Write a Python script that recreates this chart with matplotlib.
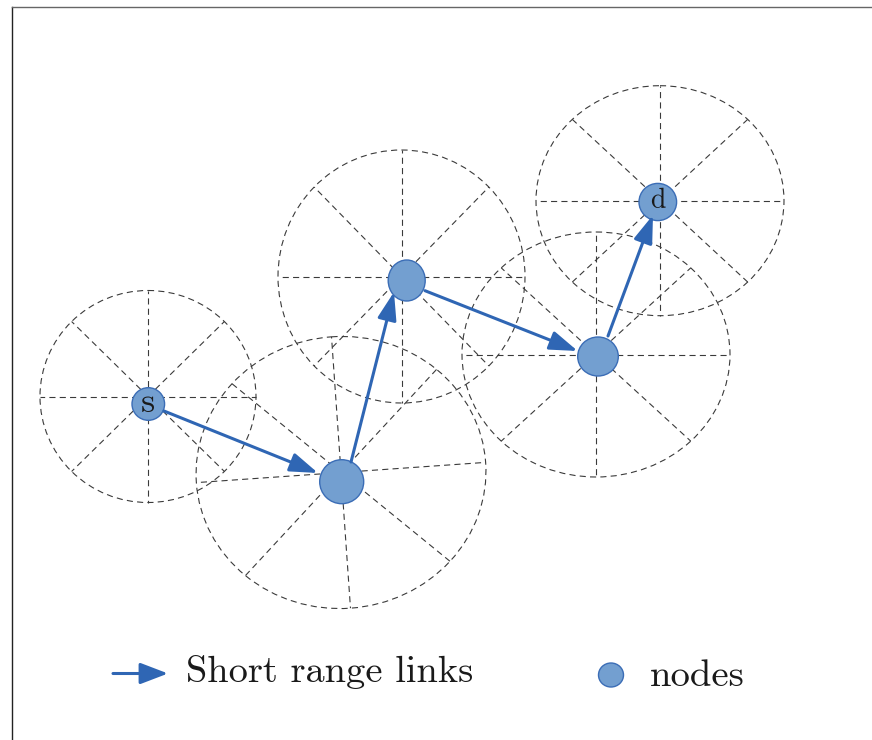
import numpy as np
import matplotlib

matplotlib.use("Agg")
import matplotlib.pyplot as plt
from matplotlib.patches import Ellipse, FancyArrowPatch, ArrowStyle
from matplotlib.lines import Line2D

# transmission ranges (pixel space, y grows downward)
range_x = [148, 341, 401.5, 596, 660]
range_y = [396.5, 472.5, 276.5, 354.5, 200.7]
range_w = [216, 290, 247, 268, 248]
range_h = [212, 272, 253, 245, 230]
range_rot = [0, -4, 0, 0, 0]

# nodes
node_x = [148.3, 341.7, 406.7, 598.0, 657.8]
node_y = [404.0, 481.7, 280.5, 356.5, 202.0]
node_w = [32.6, 44.0, 37.0, 40.6, 37.6]
node_h = [32.6, 44.0, 41.0, 39.0, 37.2]
node_labels = ["s", "", "", "", "d"]

# short range links: start and tip
link_x0 = [164, 351, 425, 608]
link_y0 = [411, 462, 290.7, 336]
link_x1 = [318, 394, 577.7, 653]
link_y1 = [473, 292, 351, 215]

legend_labels = ["Short range links", "nodes"]

NODE_FILL = "#739fd0"
NODE_EDGE = "#3b6db6"
LINK = "#2f66b4"
DASH = "#3a3a3a"
W, H = 872, 740

fig = plt.figure(figsize=(W / 100, H / 100), dpi=100)
ax = fig.add_axes([0, 0, 1, 1])
ax.set_xlim(0, W)
ax.set_ylim(H, 0)
ax.axis("off")

dash = (0, (5.5, 3.8))
for cx, cy, w, h, rot in zip(range_x, range_y, range_w, range_h, range_rot):
    ax.add_patch(Ellipse((cx, cy), w, h, angle=rot, fill=False,
                         ec=DASH, lw=0.8, ls=dash, zorder=1))
    a = np.deg2rad(rot)
    for k in range(8):
        t = np.deg2rad(45 * k)
        px, py = w / 2 * np.cos(t), h / 2 * np.sin(t)
        ex = cx + px * np.cos(a) - py * np.sin(a)
        ey = cy + px * np.sin(a) + py * np.cos(a)
        ax.add_line(Line2D([cx, ex], [cy, ey], color=DASH, lw=0.8,
                           ls=dash, zorder=1))

head = ArrowStyle("-|>", head_length=17, head_width=5.8)
for x0, y0, x1, y1 in zip(link_x0, link_y0, link_x1, link_y1):
    ax.add_patch(FancyArrowPatch((x0, y0), (x1, y1), arrowstyle=head,
                                 mutation_scale=1, color=LINK, lw=2.2,
                                 shrinkA=0, shrinkB=0, zorder=4))

for x, y, w, h, lab in zip(node_x, node_y, node_w, node_h, node_labels):
    ax.add_patch(Ellipse((x, y), w, h, fc=NODE_FILL, ec=NODE_EDGE,
                         lw=1.0, zorder=3))
    if lab:
        ax.text(x, y - 1, lab, fontfamily="cmr10", fontsize=26 if lab == "s" else 20,
                ha="center", va="center", color="#1a1a1a", zorder=5)

# legend
ax.add_patch(FancyArrowPatch((113, 673.5), (168, 673.5),
                             arrowstyle=ArrowStyle("-|>", head_length=17, head_width=6.5),
                             mutation_scale=1, color=LINK, lw=2.2,
                             shrinkA=0, shrinkB=0, zorder=4))
ax.text(186, 682, legend_labels[0], fontfamily="cmr10", fontsize=27.7,
        ha="left", va="baseline", color="#1a1a1a")
ax.add_patch(Ellipse((611, 675), 25, 24, fc=NODE_FILL, ec=NODE_EDGE,
                     lw=1.0, zorder=3))
ax.text(650, 686, legend_labels[1], fontfamily="cmr10", fontsize=27.9,
        ha="left", va="baseline", color="#1a1a1a")

# frame
ax.add_line(Line2D([11.5, 11.5], [H, 7], color="#222222", lw=1.0))
ax.add_line(Line2D([11.5, W], [7, 7], color="#666666", lw=1.0))

fig.savefig("out.png", dpi=100)
